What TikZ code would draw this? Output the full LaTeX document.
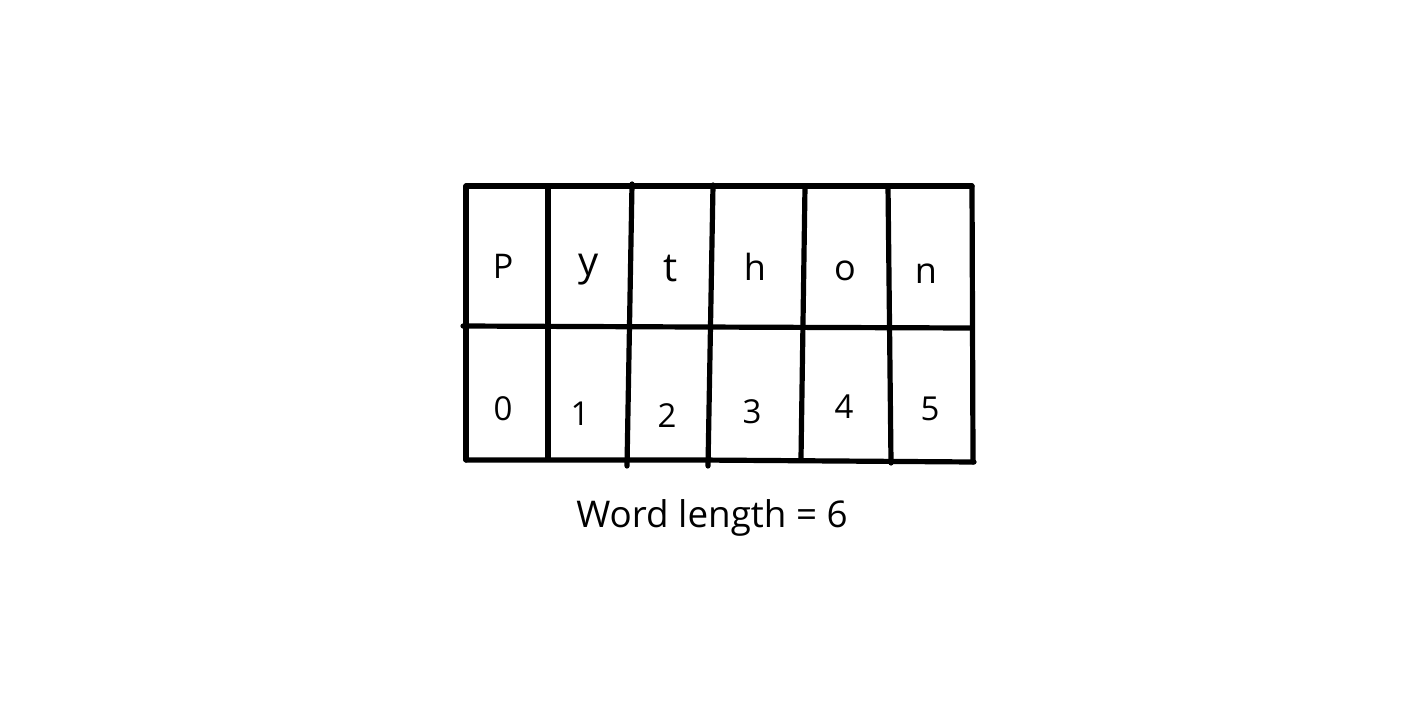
\documentclass[tikz,border=0pt]{standalone}
\usepackage{fontspec}
\setmainfont{Open Sans}
\begin{document}
\begin{tikzpicture}[x=0.5pt,y=-0.5pt,
  gridline/.style={line width=2.6pt,line cap=round,line join=round,black},
  cell/.style={inner sep=0pt,anchor=base,text=black},
  txt/.style={inner sep=0pt,anchor=base,text=black}]
\useasboundingbox (0,0) rectangle (1416,712);
% horizontal lines
\draw[gridline] (466,186) -- (972,186);
\draw[gridline] (463,326) -- (700,327) -- (972,328);
\draw[gridline] (466,460) -- (700,460) -- (974,462);
% outer left
\draw[gridline] (466,186) -- (466,460);
% vertical dividers
\draw[gridline] (548,186) -- (548,458);
\draw[gridline] (632,184) -- (627,466);
\draw[gridline] (713,185) -- (708,466);
\draw[gridline] (805,186) -- (801,458);
\draw[gridline] (888,186) -- (891,463);
\draw[gridline] (972,186) -- (973,462);
% letters
\node[cell,font=\fontsize{17}{20}\selectfont] (cP) at (503,278) {P};
\node[cell,font=\fontsize{20}{24}\selectfont] (cy) at (589,275) {y};
\node[cell,font=\fontsize{20}{24}\selectfont] (ct) at (671,281) {t};
\node[cell,font=\fontsize{18}{21}\selectfont] (ch) at (755,280) {h};
\node[cell,font=\fontsize{18}{21}\selectfont] (co) at (845,280) {o};
\node[cell,font=\fontsize{18}{21}\selectfont] (cn) at (926,283) {n};
% digits
\node[cell,font=\fontsize{16.5}{19}\selectfont] (d0) at (503,420) {0};
\node[cell,font=\fontsize{16.5}{19}\selectfont] (d1) at (580,425) {1};
\node[cell,font=\fontsize{16.5}{19}\selectfont] (d2) at (667,427) {2};
\node[cell,font=\fontsize{16.5}{19}\selectfont] (d3) at (752,423) {3};
\node[cell,font=\fontsize{16.5}{19}\selectfont] (d4) at (844,418) {4};
\node[cell,font=\fontsize{16.5}{19}\selectfont] (d5) at (930,420) {5};
% caption
\node[txt,font=\fontsize{18.4}{22}\selectfont] (cap) at (712,527) {Word length = 6};
\end{tikzpicture}
\end{document}
